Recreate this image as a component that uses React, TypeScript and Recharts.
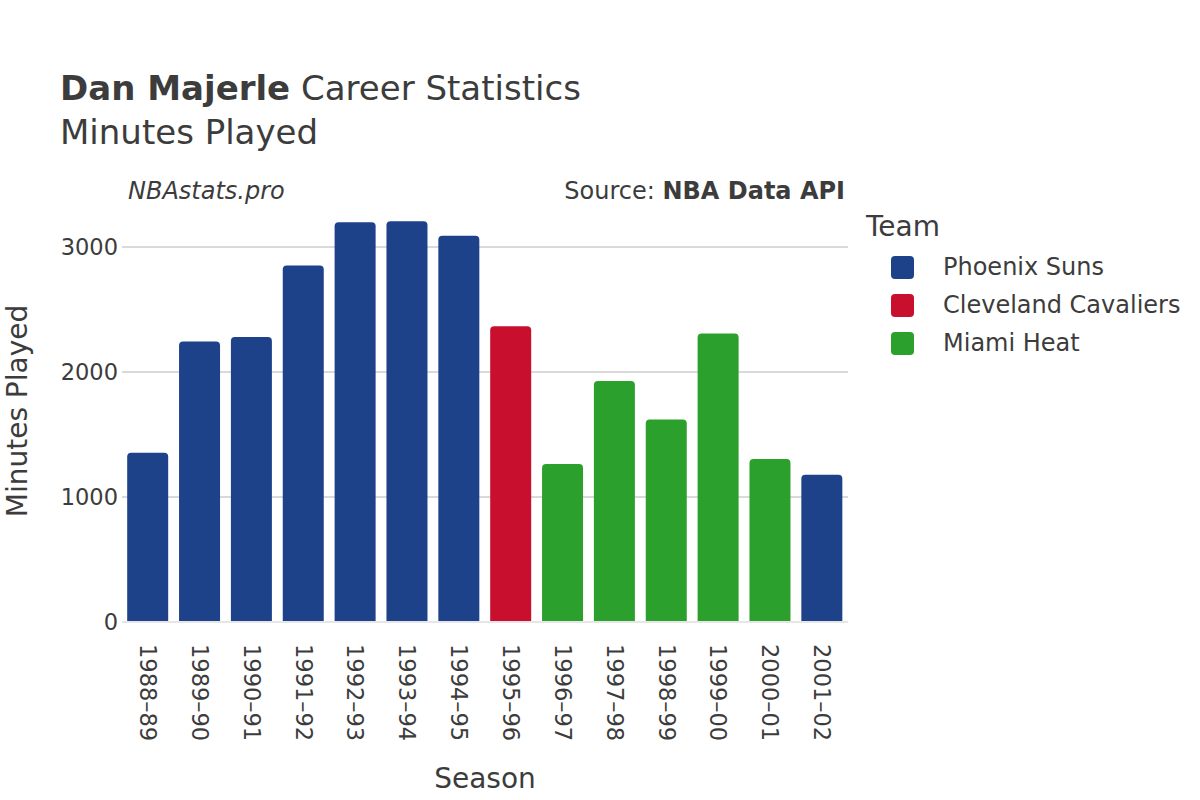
import { BarChart, Bar, XAxis, YAxis, CartesianGrid, Cell } from 'recharts';

const seasons = [
  '1988–89', '1989–90', '1990–91', '1991–92', '1992–93', '1993–94', '1994–95',
  '1995–96', '1996–97', '1997–98', '1998–99', '1999–00', '2000–01', '2001–02',
];
const minutes = [1354, 2244, 2281, 2853, 3199, 3207, 3091, 2367, 1264, 1928, 1621, 2308, 1304, 1179];
const teams = [
  'Phoenix Suns', 'Phoenix Suns', 'Phoenix Suns', 'Phoenix Suns', 'Phoenix Suns', 'Phoenix Suns', 'Phoenix Suns',
  'Cleveland Cavaliers', 'Miami Heat', 'Miami Heat', 'Miami Heat', 'Miami Heat', 'Miami Heat', 'Phoenix Suns',
];
const legendTeams = ['Phoenix Suns', 'Cleveland Cavaliers', 'Miami Heat'];
const teamColors: Record<string, string> = {
  'Phoenix Suns': '#1d428a',
  'Cleveland Cavaliers': '#c8102e',
  'Miami Heat': '#2ca02c',
};
const yTicks = [0, 1000, 2000, 3000];
const gridValues = [1000, 2000, 3000];

const chartData = seasons.map((season, i) => ({ season, minutes: minutes[i], team: teams[i] }));

const font = '"DejaVu Sans", sans-serif';
const textColor = '#3c3c3c';

function SeasonTick({ x, y, payload }: any) {
  return (
    <text
      transform={`translate(${x},${y + 14}) rotate(90)`}
      textAnchor="start"
      dominantBaseline="central"
      fill={textColor}
      fontSize={22.5}
      fontFamily={font}
    >
      {payload.value}
    </text>
  );
}

export default function App() {
  return (
    <div style={{ position: 'absolute', left: 0, top: 0, width: 1200, height: 800, background: '#fff', fontFamily: font, color: textColor }}>
      <div style={{ position: 'absolute', left: 60, top: 68, fontSize: 34, whiteSpace: 'nowrap' }}>
        <b>Dan Majerle</b> Career Statistics
      </div>
      <div style={{ position: 'absolute', left: 60, top: 112, fontSize: 34, whiteSpace: 'nowrap' }}>Minutes Played</div>
      <div style={{ position: 'absolute', left: 128, top: 177, fontSize: 24, fontStyle: 'italic' }}>NBAstats.pro</div>
      <div style={{ position: 'absolute', right: 1200 - 845, top: 177, fontSize: 24, whiteSpace: 'nowrap' }}>
        Source: <b>NBA Data API</b>
      </div>

      <BarChart
        width={1200}
        height={800}
        data={chartData}
        margin={{ top: 201, right: 352, bottom: 58, left: 62 }}
        barCategoryGap="10%"
      >
        <CartesianGrid vertical={false} stroke="#b4b4b4" horizontalValues={gridValues} />
        <XAxis
          dataKey="season"
          interval={0}
          height={120}
          tick={<SeasonTick />}
          tickLine={false}
          axisLine={{ stroke: '#e6e6e6', strokeWidth: 2 }}
        />
        <YAxis
          width={60}
          domain={[0, 3368]}
          ticks={yTicks}
          tickSize={0}
          tickMargin={4}
          axisLine={false}
          tick={{ fill: textColor, fontSize: 22.5, fontFamily: font }}
        />
        <Bar dataKey="minutes" radius={[4, 4, 0, 0]} isAnimationActive={false}>
          {chartData.map((d) => (
            <Cell key={d.season} fill={teamColors[d.team]} />
          ))}
        </Bar>
      </BarChart>

      <div style={{ position: 'absolute', left: 17, top: 411, transform: 'translate(-50%, -50%) rotate(-90deg)', fontSize: 28, whiteSpace: 'nowrap' }}>
        Minutes Played
      </div>
      <div style={{ position: 'absolute', left: 485, top: 778, transform: 'translate(-50%, -50%)', fontSize: 28 }}>Season</div>

      <div style={{ position: 'absolute', left: 866, top: 210, fontSize: 28 }}>Team</div>
      {legendTeams.map((t, i) => (
        <div key={t} style={{ position: 'absolute', left: 891, top: 255 + i * 38, height: 24, display: 'flex', alignItems: 'center' }}>
          <div style={{ width: 23, height: 23, borderRadius: 4, background: teamColors[t] }} />
          <div style={{ marginLeft: 29, fontSize: 24, whiteSpace: 'nowrap' }}>{t}</div>
        </div>
      ))}
    </div>
  );
}
